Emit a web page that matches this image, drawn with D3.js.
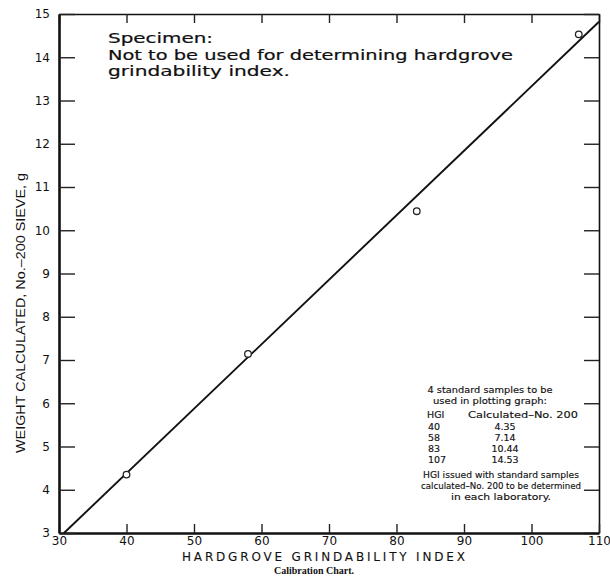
<!DOCTYPE html>
<html>
<head>
<meta charset="utf-8">
<script src="https://cdn.jsdelivr.net/npm/d3@7"></script>
<style>
  html, body { margin: 0; padding: 0; background: #fff; }
  svg { display: block; }
  text { fill: #111; }
</style>
</head>
<body>
<svg id="chart" width="610" height="579"></svg>
<script>
// ---- data ----
const hgi = [40, 58, 83, 107];
const weight = [4.35, 7.14, 10.44, 14.53];
const fitHGI = [30.74, 110];
const fitWeight = [3, 14.82];
const xTicks = [30, 40, 50, 60, 70, 80, 90, 100, 110];
const yTicks = [3, 4, 5, 6, 7, 8, 9, 10, 11, 12, 13, 14, 15];
const tableHGI = ["40", "58", "83", "107"];
const tableCalc = ["4.35", "7.14", "10.44", "14.53"];
const specimenLines = ["Specimen:", "Not to be used for determining hardgrove", "grindability index."];
const noteTop = ["4 standard samples to be", "used in plotting graph:"];
const noteBottom = ["HGI issued with standard samples", "calculated\u2013No. 200 to be determined", "in each laboratory."];
const xTitle = "HARDGROVE GRINDABILITY INDEX";
const yTitle = "WEIGHT CALCULATED, No.\u2013200 SIEVE, g";
const caption = "Calibration Chart.";

// ---- layout ----
const svg = d3.select("#chart");
const L = 59, R = 599, T = 14, B = 533;
const x = d3.scaleLinear().domain([30, 110]).range([L, R]);
const y = d3.scaleLinear().domain([3, 15]).range([B, T]);
const font = "'DejaVu Sans', sans-serif";

function styleAxis(g, w) {
  g.select(".domain").attr("stroke", "#111").attr("stroke-width", w);
  g.selectAll(".tick line").attr("stroke", "#222").attr("stroke-width", 1.4);
  g.selectAll(".tick text").attr("font-family", font).attr("font-size", 12).attr("fill", "#111");
}

// top & right (ticks only)
svg.append("g").attr("transform", `translate(0,${T})`)
  .call(d3.axisTop(x).tickValues(xTicks).tickSizeInner(-9).tickSizeOuter(0).tickFormat(""))
  .call(g => styleAxis(g, 1.6));
svg.append("g").attr("transform", `translate(${R},0)`)
  .call(d3.axisRight(y).tickValues(yTicks).tickSizeInner(-15).tickSizeOuter(0).tickFormat(""))
  .call(g => styleAxis(g, 1.6));
// bottom
svg.append("g").attr("transform", `translate(0,${B})`)
  .call(d3.axisBottom(x).tickValues(xTicks).tickSizeInner(-9).tickSizeOuter(0).tickPadding(3).tickFormat(d3.format("d")))
  .call(g => styleAxis(g, 2.4));
// left
svg.append("g").attr("transform", `translate(${L},0)`)
  .call(d3.axisLeft(y).tickValues(yTicks).tickSizeInner(-16).tickSizeOuter(0).tickPadding(9).tickFormat(d3.format("d")))
  .call(g => styleAxis(g, 2.6));

// fitted line
const fit = fitHGI.map((h, i) => [h, fitWeight[i]]);
svg.append("path")
  .attr("d", d3.line().x(d => x(d[0])).y(d => y(d[1]))(fit))
  .attr("fill", "none").attr("stroke", "#111").attr("stroke-width", 1.9);

// points
svg.selectAll("circle.pt").data(hgi.map((h, i) => [h, weight[i]])).join("circle")
  .attr("class", "pt")
  .attr("cx", d => x(d[0])).attr("cy", d => y(d[1])).attr("r", 3.3)
  .attr("fill", "#fff").attr("stroke", "#222").attr("stroke-width", 1.3);

// specimen text
const specY = [43, 60, 76];
const specW = [105, 405, 182];
svg.selectAll("text.spec").data(specimenLines).join("text")
  .attr("class", "spec")
  .attr("x", 108).attr("y", (d, i) => specY[i])
  .attr("font-family", font).attr("font-size", 14)
  .attr("stroke", "#111").attr("stroke-width", 0.2)
  .attr("textLength", (d, i) => specW[i]).attr("lengthAdjust", "spacingAndGlyphs")
  .text(d => d);

// note block
const noteFont = 9.5;
function note(sel) {
  return sel.attr("font-family", font).attr("font-size", noteFont)
    .attr("stroke", "#111").attr("stroke-width", 0.15)
    .attr("lengthAdjust", "spacingAndGlyphs");
}
const noteTopW = [125, 114];
svg.selectAll("text.nt").data(noteTop).join("text")
  .attr("class", "nt")
  .attr("x", 490).attr("y", (d, i) => 393 + i * 11)
  .attr("text-anchor", "middle").call(note)
  .attr("textLength", (d, i) => noteTopW[i])
  .text(d => d);
svg.append("text").attr("x", 427).attr("y", 418).call(note).text("HGI");
svg.append("text").attr("x", 468).attr("y", 418).call(note)
  .attr("textLength", 110).text("Calculated\u2013No. 200");
svg.selectAll("text.th").data(tableHGI).join("text")
  .attr("class", "th")
  .attr("x", 428).attr("y", (d, i) => 430 + i * 11)
  .call(note).text(d => d);
svg.selectAll("text.tc").data(tableCalc).join("text")
  .attr("class", "tc")
  .attr("x", 505).attr("y", (d, i) => 430 + i * 11)
  .attr("text-anchor", "middle").call(note).text(d => d);
const noteBottomW = [156, 160, 100];
svg.selectAll("text.nb").data(noteBottom).join("text")
  .attr("class", "nb")
  .attr("x", 501).attr("y", (d, i) => 478 + i * 11)
  .attr("text-anchor", "middle").call(note)
  .attr("textLength", (d, i) => noteBottomW[i])
  .text(d => d);

// axis titles
svg.append("text").attr("x", 323.5).attr("y", 561)
  .attr("text-anchor", "middle").attr("font-family", font).attr("font-size", 12)
  .attr("stroke", "#111").attr("stroke-width", 0.1)
  .attr("textLength", 283).attr("lengthAdjust", "spacing")
  .text(xTitle);
svg.append("text")
  .attr("transform", "translate(25,313) rotate(-90)")
  .attr("text-anchor", "middle")
  .attr("font-family", "'Liberation Sans Narrow', 'Liberation Sans', sans-serif").attr("font-size", 12)
  .attr("textLength", 280).attr("lengthAdjust", "spacingAndGlyphs")
  .text(yTitle);
svg.append("text").attr("x", 314).attr("y", 574)
  .attr("text-anchor", "middle").attr("font-family", "'Liberation Serif', serif")
  .attr("font-weight", "bold").attr("font-size", 10)
  .text(caption);
</script>
</body>
</html>
